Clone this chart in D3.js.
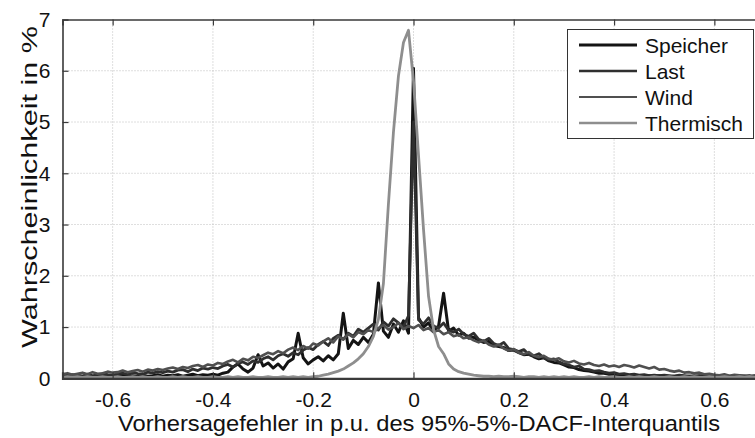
<!DOCTYPE html>
<html>
<head>
<meta charset="utf-8">
<script src="https://cdn.jsdelivr.net/npm/d3@7"></script>
<style>
  html, body { margin: 0; padding: 0; background: #fff; }
  svg { display: block; font-family: "Liberation Sans", Arial, Helvetica, sans-serif; }
</style>
</head>
<body>
<svg id="chart" width="755" height="438"></svg>
<script>
// Bin centres of the forecast error (p.u. of the 95%-5% DACF interquantile)
const bins = [
  -0.70,-0.69,-0.68,-0.67,-0.66,-0.65,-0.64,-0.63,-0.62,-0.61,
  -0.60,-0.59,-0.58,-0.57,-0.56,-0.55,-0.54,-0.53,-0.52,-0.51,
  -0.50,-0.49,-0.48,-0.47,-0.46,-0.45,-0.44,-0.43,-0.42,-0.41,
  -0.40,-0.39,-0.38,-0.37,-0.36,-0.35,-0.34,-0.33,-0.32,-0.31,
  -0.30,-0.29,-0.28,-0.27,-0.26,-0.25,-0.24,-0.23,-0.22,-0.21,
  -0.20,-0.19,-0.18,-0.17,-0.16,-0.15,-0.14,-0.13,-0.12,-0.11,
  -0.10,-0.09,-0.08,-0.07,-0.06,-0.05,-0.04,-0.03,-0.02,-0.01,
   0.00,
   0.01, 0.02, 0.03, 0.04, 0.05, 0.06, 0.07, 0.08, 0.09, 0.10,
   0.11, 0.12, 0.13, 0.14, 0.15, 0.16, 0.17, 0.18, 0.19, 0.20,
   0.21, 0.22, 0.23, 0.24, 0.25, 0.26, 0.27, 0.28, 0.29, 0.30,
   0.31, 0.32, 0.33, 0.34, 0.35, 0.36, 0.37, 0.38, 0.39, 0.40,
   0.41, 0.42, 0.43, 0.44, 0.45, 0.46, 0.47, 0.48, 0.49, 0.50,
   0.51, 0.52, 0.53, 0.54, 0.55, 0.56, 0.57, 0.58, 0.59, 0.60,
   0.61, 0.62, 0.63, 0.64, 0.65, 0.66, 0.67, 0.68, 0.69, 0.70
];

// Probability in % per bin
const speicher = [
  0.04,0.06,0.03,0.05,0.04,0.06,0.03,0.05,0.04,0.06,
  0.03,0.05,0.06,0.04,0.05,0.03,0.06,0.04,0.05,0.07,
  0.04,0.06,0.05,0.07,0.04,0.06,0.08,0.05,0.07,0.06,
  0.08,0.06,0.10,0.12,0.22,0.28,0.18,0.12,0.20,0.46,
  0.24,0.30,0.20,0.28,0.18,0.32,0.38,0.88,0.40,0.28,
  0.36,0.42,0.34,0.44,0.36,0.48,1.27,0.58,0.74,0.66,
  0.80,0.70,0.86,1.86,0.92,0.80,1.06,0.90,1.12,0.88,
  6.05,
  1.18,1.00,1.08,0.92,1.02,1.66,0.92,0.98,0.84,0.88,
  0.78,0.80,0.74,0.70,0.72,0.64,0.62,0.60,0.54,0.55,
  0.50,0.46,0.47,0.42,0.38,0.40,0.34,0.31,0.30,0.26,
  0.22,0.21,0.17,0.15,0.14,0.12,0.10,0.10,0.08,0.08,
  0.06,0.07,0.05,0.06,0.05,0.04,0.05,0.04,0.05,0.04,
  0.03,0.04,0.05,0.03,0.04,0.03,0.05,0.04,0.03,0.04,
  0.03,0.04,0.03,0.05,0.03,0.04,0.03,0.04,0.03,0.04
];
const last = [
  0.05,0.04,0.07,0.06,0.04,0.08,0.05,0.06,0.09,0.07,
  0.06,0.09,0.10,0.07,0.11,0.09,0.08,0.12,0.10,0.13,
  0.11,0.14,0.12,0.16,0.17,0.13,0.18,0.15,0.20,0.18,
  0.21,0.19,0.24,0.27,0.22,0.29,0.32,0.27,0.34,0.31,
  0.38,0.42,0.36,0.44,0.48,0.43,0.50,0.46,0.55,0.60,
  0.56,0.66,0.72,0.64,0.78,0.84,0.76,0.88,0.82,0.96,
  0.90,0.98,1.06,0.94,1.10,1.02,1.16,1.08,1.00,1.22,
  5.00,
  1.14,1.06,1.18,1.02,0.98,1.08,0.94,0.90,0.96,0.86,
  0.82,0.88,0.76,0.72,0.78,0.68,0.64,0.70,0.58,0.56,
  0.52,0.56,0.46,0.44,0.48,0.40,0.36,0.38,0.32,0.28,
  0.26,0.22,0.24,0.18,0.17,0.14,0.15,0.12,0.10,0.11,
  0.08,0.09,0.07,0.08,0.06,0.07,0.05,0.06,0.05,0.06,
  0.05,0.04,0.06,0.05,0.04,0.05,0.04,0.06,0.04,0.05,
  0.04,0.05,0.04,0.03,0.05,0.04,0.03,0.05,0.04,0.03
];
const wind = [
  0.08,0.10,0.07,0.09,0.11,0.08,0.12,0.09,0.10,0.13,
  0.11,0.12,0.15,0.12,0.14,0.16,0.13,0.17,0.15,0.18,
  0.16,0.19,0.21,0.18,0.22,0.20,0.24,0.26,0.22,0.27,
  0.25,0.30,0.28,0.33,0.36,0.31,0.38,0.35,0.42,0.40,
  0.45,0.50,0.47,0.53,0.49,0.56,0.60,0.55,0.63,0.58,
  0.68,0.64,0.72,0.78,0.70,0.82,0.76,0.86,0.80,0.90,
  0.86,0.94,0.90,0.98,1.04,0.95,1.00,1.08,0.96,1.02,
  0.98,
  1.04,0.94,0.98,0.90,0.94,0.86,0.90,0.82,0.85,0.78,
  0.80,0.74,0.70,0.74,0.66,0.62,0.66,0.58,0.54,0.57,
  0.50,0.47,0.51,0.44,0.41,0.44,0.38,0.36,0.39,0.33,
  0.31,0.34,0.29,0.27,0.30,0.26,0.24,0.27,0.23,0.25,
  0.22,0.26,0.24,0.21,0.25,0.22,0.19,0.22,0.17,0.18,
  0.15,0.13,0.15,0.11,0.12,0.10,0.11,0.08,0.09,0.07,
  0.06,0.08,0.05,0.07,0.06,0.05,0.06,0.04,0.05,0.04
];
const thermisch = [
  0.02,0.03,0.02,0.03,0.02,0.03,0.02,0.02,0.03,0.02,
  0.02,0.03,0.02,0.02,0.03,0.02,0.03,0.02,0.02,0.03,
  0.02,0.02,0.03,0.02,0.03,0.02,0.02,0.03,0.02,0.02,
  0.03,0.02,0.02,0.03,0.02,0.03,0.02,0.02,0.03,0.02,
  0.02,0.03,0.02,0.02,0.03,0.02,0.03,0.02,0.03,0.02,
  0.03,0.04,0.06,0.08,0.11,0.14,0.18,0.24,0.30,0.38,
  0.48,0.62,0.82,1.15,1.85,3.40,4.80,5.90,6.55,6.79,
  5.80,
  4.35,2.90,1.60,0.95,0.62,0.48,0.28,0.18,0.13,0.10,
  0.08,0.06,0.05,0.04,0.04,0.03,0.04,0.03,0.03,0.04,
  0.03,0.02,0.03,0.03,0.02,0.03,0.02,0.03,0.02,0.03,
  0.02,0.03,0.02,0.02,0.03,0.02,0.03,0.02,0.02,0.03,
  0.02,0.02,0.03,0.02,0.03,0.02,0.02,0.03,0.02,0.02,
  0.03,0.02,0.02,0.03,0.02,0.03,0.02,0.02,0.03,0.02,
  0.02,0.03,0.02,0.02,0.03,0.02,0.03,0.02,0.02,0.03
];

const seriesNames = ["Speicher", "Last", "Wind", "Thermisch"];
const seriesValues = [speicher, last, wind, thermisch];
const seriesColors = ["#141414", "#2f2f2f", "#505050", "#8e8e8e"];
const seriesWidths = [3, 2.8, 2.6, 2.8];
const legendWidths = [3.2, 2.4, 1.8, 2.6];

const xTicks = [-0.6, -0.4, -0.2, 0, 0.2, 0.4, 0.6];
const yTicks = [0, 1, 2, 3, 4, 5, 6, 7];
const xTitle = "Vorhersagefehler in p.u. des 95%-5%-DACF-Interquantils";
const yTitle = "Wahrscheinlichkeit in %";

const svg = d3.select("#chart");
const plot = { left: 62.5, top: 19.5, right: 764.5, bottom: 378.3 };

const x = d3.scaleLinear().domain([-0.7, 0.7]).range([plot.left, plot.right]);
const y = d3.scaleLinear().domain([0, 7]).range([plot.bottom, plot.top]);

svg.append("defs").append("clipPath").attr("id", "plotClip")
  .append("rect")
  .attr("x", plot.left).attr("y", plot.top - 4)
  .attr("width", plot.right - plot.left).attr("height", plot.bottom - plot.top + 4);

// dotted grid
const grid = svg.append("g").attr("class", "grid");
grid.selectAll("line.gx").data(xTicks).join("line")
  .attr("x1", d => x(d)).attr("x2", d => x(d))
  .attr("y1", plot.top).attr("y2", plot.bottom)
  .attr("stroke", "#bdbdbd").attr("stroke-width", 1).attr("stroke-dasharray", "1,2");
grid.selectAll("line.gy").data(yTicks.filter(d => d > 0 && d < 7)).join("line")
  .attr("x1", plot.left).attr("x2", plot.right)
  .attr("y1", d => y(d)).attr("y2", d => y(d))
  .attr("stroke", "#bdbdbd").attr("stroke-width", 1).attr("stroke-dasharray", "1,2");

// series lines
const line = d3.line()
  .x((d, i) => x(bins[i]))
  .y(d => y(d));
const lines = svg.append("g").attr("clip-path", "url(#plotClip)");
seriesValues.forEach((vals, k) => {
  lines.append("path")
    .datum(vals)
    .attr("d", line)
    .attr("fill", "none")
    .attr("stroke", seriesColors[k])
    .attr("stroke-width", seriesWidths[k])
    .attr("stroke-linejoin", "round");
});

// axes (ticks pointing inward, box style)
const axisColor = "#3a3a3a";
const bottomAxis = svg.append("g")
  .attr("transform", `translate(0,${plot.bottom})`)
  .call(d3.axisBottom(x).tickValues(xTicks).tickSize(-6).tickPadding(14)
    .tickFormat(d => d === 0 ? "0" : d3.format(".1f")(d).replace("−", "-")));
const topAxis = svg.append("g")
  .attr("transform", `translate(0,${plot.top})`)
  .call(d3.axisTop(x).tickValues(xTicks).tickSize(-6).tickFormat(""));
const leftAxis = svg.append("g")
  .attr("transform", `translate(${plot.left},0)`)
  .call(d3.axisLeft(y).tickValues(yTicks).tickSize(-6).tickPadding(12).tickFormat(d3.format("d")));

[bottomAxis, topAxis, leftAxis].forEach(g => {
  g.select(".domain").attr("stroke", axisColor).attr("stroke-width", 1.6);
  g.selectAll(".tick line").attr("stroke", axisColor).attr("stroke-width", 1.2);
  g.selectAll(".tick text").attr("fill", "#111").attr("font-size", 21)
    .attr("font-family", "\"Liberation Sans\", Arial, sans-serif");
});
bottomAxis.select(".domain").attr("stroke-width", 2.2);
leftAxis.selectAll(".tick").filter(d => d === 0 || d === 7).select("line").remove();

// axis titles
svg.append("text")
  .attr("x", 419).attr("y", 431)
  .attr("text-anchor", "middle")
  .attr("font-size", 22).attr("fill", "#111")
  .attr("textLength", 602).attr("lengthAdjust", "spacingAndGlyphs")
  .text(xTitle);
svg.append("text")
  .attr("transform", "translate(37,187) rotate(-90)")
  .attr("text-anchor", "middle")
  .attr("font-size", 22).attr("fill", "#111")
  .attr("textLength", 322).attr("lengthAdjust", "spacingAndGlyphs")
  .text(yTitle);

// legend
const legend = svg.append("g").attr("class", "legend");
legend.append("rect")
  .attr("x", 567.5).attr("y", 29.5).attr("width", 186).attr("height", 109)
  .attr("fill", "#fff").attr("stroke", "#333").attr("stroke-width", 1);
const rowY = d3.scalePoint().domain(seriesNames).range([45, 123]);
seriesNames.forEach((name, k) => {
  legend.append("line")
    .attr("x1", 579).attr("x2", 637)
    .attr("y1", rowY(name)).attr("y2", rowY(name))
    .attr("stroke", seriesColors[k]).attr("stroke-width", legendWidths[k]);
  legend.append("text")
    .attr("x", 645).attr("y", rowY(name))
    .attr("dy", "0.36em")
    .attr("font-size", 21).attr("fill", "#111")
    .text(name);
});
</script>
</body>
</html>
